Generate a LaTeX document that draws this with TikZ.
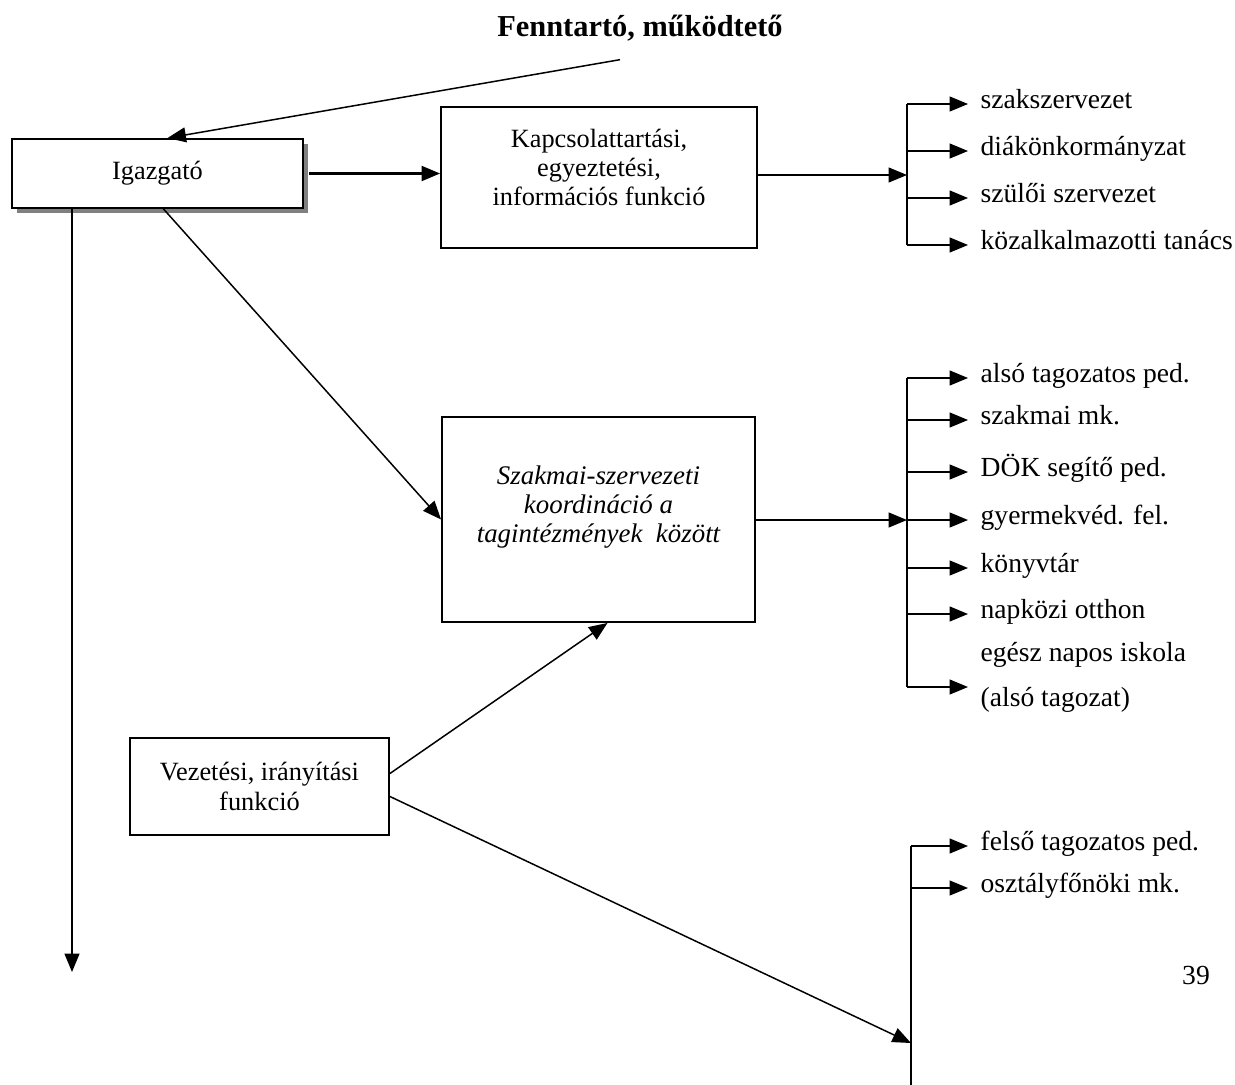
\documentclass[tikz,border=0pt]{standalone}
\usepackage{fontspec}
\setmainfont{Liberation Serif}
\usetikzlibrary{arrows.meta,shadows}

\begin{document}
\begin{tikzpicture}[x=0.02cm,y=-0.02cm,line width=0.85pt,->,
	>={Triangle[length=10.5pt,width=8.5pt]},
	font=\fontsize{15}{16}\selectfont,
	box/.style={draw,-,line width=1.1pt,fill=white,inner sep=0pt},
	item/.style={anchor=mid west,inner xsep=6.8pt,inner ysep=0pt,font=\fontsize{15.7}{17}\selectfont}]
	\useasboundingbox (0,0) rectangle (1235,1085);

	\node[font=\fontsize{17.3}{20}\selectfont\bfseries] (fenn) at (640,28) {Fenntartó, működtető};

	\node[box,minimum width=5.82cm,minimum height=1.38cm,
		drop shadow={shadow xshift=2.8pt,shadow yshift=-2.8pt,fill=black!50,opacity=1}] (igaz) at (157.5,173.5) {Igazgató};
	\node[box,minimum width=6.32cm,minimum height=2.82cm] (kapcs) at (599,177.5) {};
	\node[align=center,font=\fontsize{15}{16.3}\selectfont] (kapcstxt) at (599,167.5) {Kapcsolattartási,\\ egyeztetési,\\ információs funkció};
	\node[box,minimum width=6.26cm,minimum height=4.1cm] (szakm) at (598.5,519.5) {};
	\node[align=center,font=\fontsize{15.3}{16.6}\selectfont\itshape] (szakmtxt) at (598.5,507) {Szakmai-szervezeti\\ koordináció a\\ tagintézmények~ között};
	\node[box,minimum width=5.18cm,minimum height=1.94cm,align=center,
		font=\fontsize{15}{17.5}\selectfont] (vez) at (259.5,786.5) {Vezetési, irányítási\\ funkció};

	\coordinate (b1) at (907,175);
	\coordinate (b2) at (907,520);
	\coordinate (b2bot) at (907,687);
	\coordinate (b3) at (911,1043);
	\coordinate (b3bot) at (911,1085);
	\coordinate (lent) at (72,972);

	\foreach \y/\txt [count=\i] in {104/szakszervezet,151/diákönkormányzat,198/szülői szervezet,245/közalkalmazotti tanács}
		\node[item] (k\i) at (968,\y) {\txt};
	\foreach \y/\txt [count=\i] in {378/alsó tagozatos ped.,420/szakmai mk.,472/DÖK segítő ped.,520/gyermekvéd. fel.,568/könyvtár,614/napközi otthon,657/egész napos iskola,702/(alsó tagozat)}
		\node[item] (p\i) at (968,\y) {\txt};
	\foreach \y/\txt [count=\i] in {846/felső tagozatos ped.,888/osztályfőnöki mk.}
		\node[item] (f\i) at (968,\y) {\txt};
	\node[font=\fontsize{15.7}{17}\selectfont] (oldal) at (1196,975) {39};

	\draw[-] (k1.mid west -| b1) -- (k4.mid west -| b1);
	\foreach \i in {1,...,4} \draw (k\i.mid west -| b1) -- (k\i.mid west);
	\draw[-] (p1.mid west -| b2) -- (b2bot);
	\foreach \i in {1,...,6} \draw (p\i.mid west -| b2) -- (p\i.mid west);
	\draw (b2bot) -- (b2bot -| p8.mid west);
	\draw[-] (f1.mid west -| b3) -- (b3bot);
	\foreach \i in {1,2} \draw (f\i.mid west -| b3) -- (f\i.mid west);

	\draw ([shift={(-20,12)}]fenn.south) -- ([shift={(10,0)}]igaz.north);
	\draw[line width=1.3pt] ([shift={(5,0)}]igaz.east) -- (kapcs.west |- igaz.east);
	\draw (kapcs.east |- b1) -- (b1);
	\draw ([shift={(6,0)}]igaz.south) -- (szakm.west);
	\draw (szakm.east |- b2) -- (b2);
	\draw ([shift={(0,-13)}]vez.east) -- ([shift={(9,0)}]szakm.south);
	\draw ([shift={(0,10)}]vez.east) -- (b3);
	\draw (igaz.south -| lent) -- (lent);
\end{tikzpicture}
\end{document}
